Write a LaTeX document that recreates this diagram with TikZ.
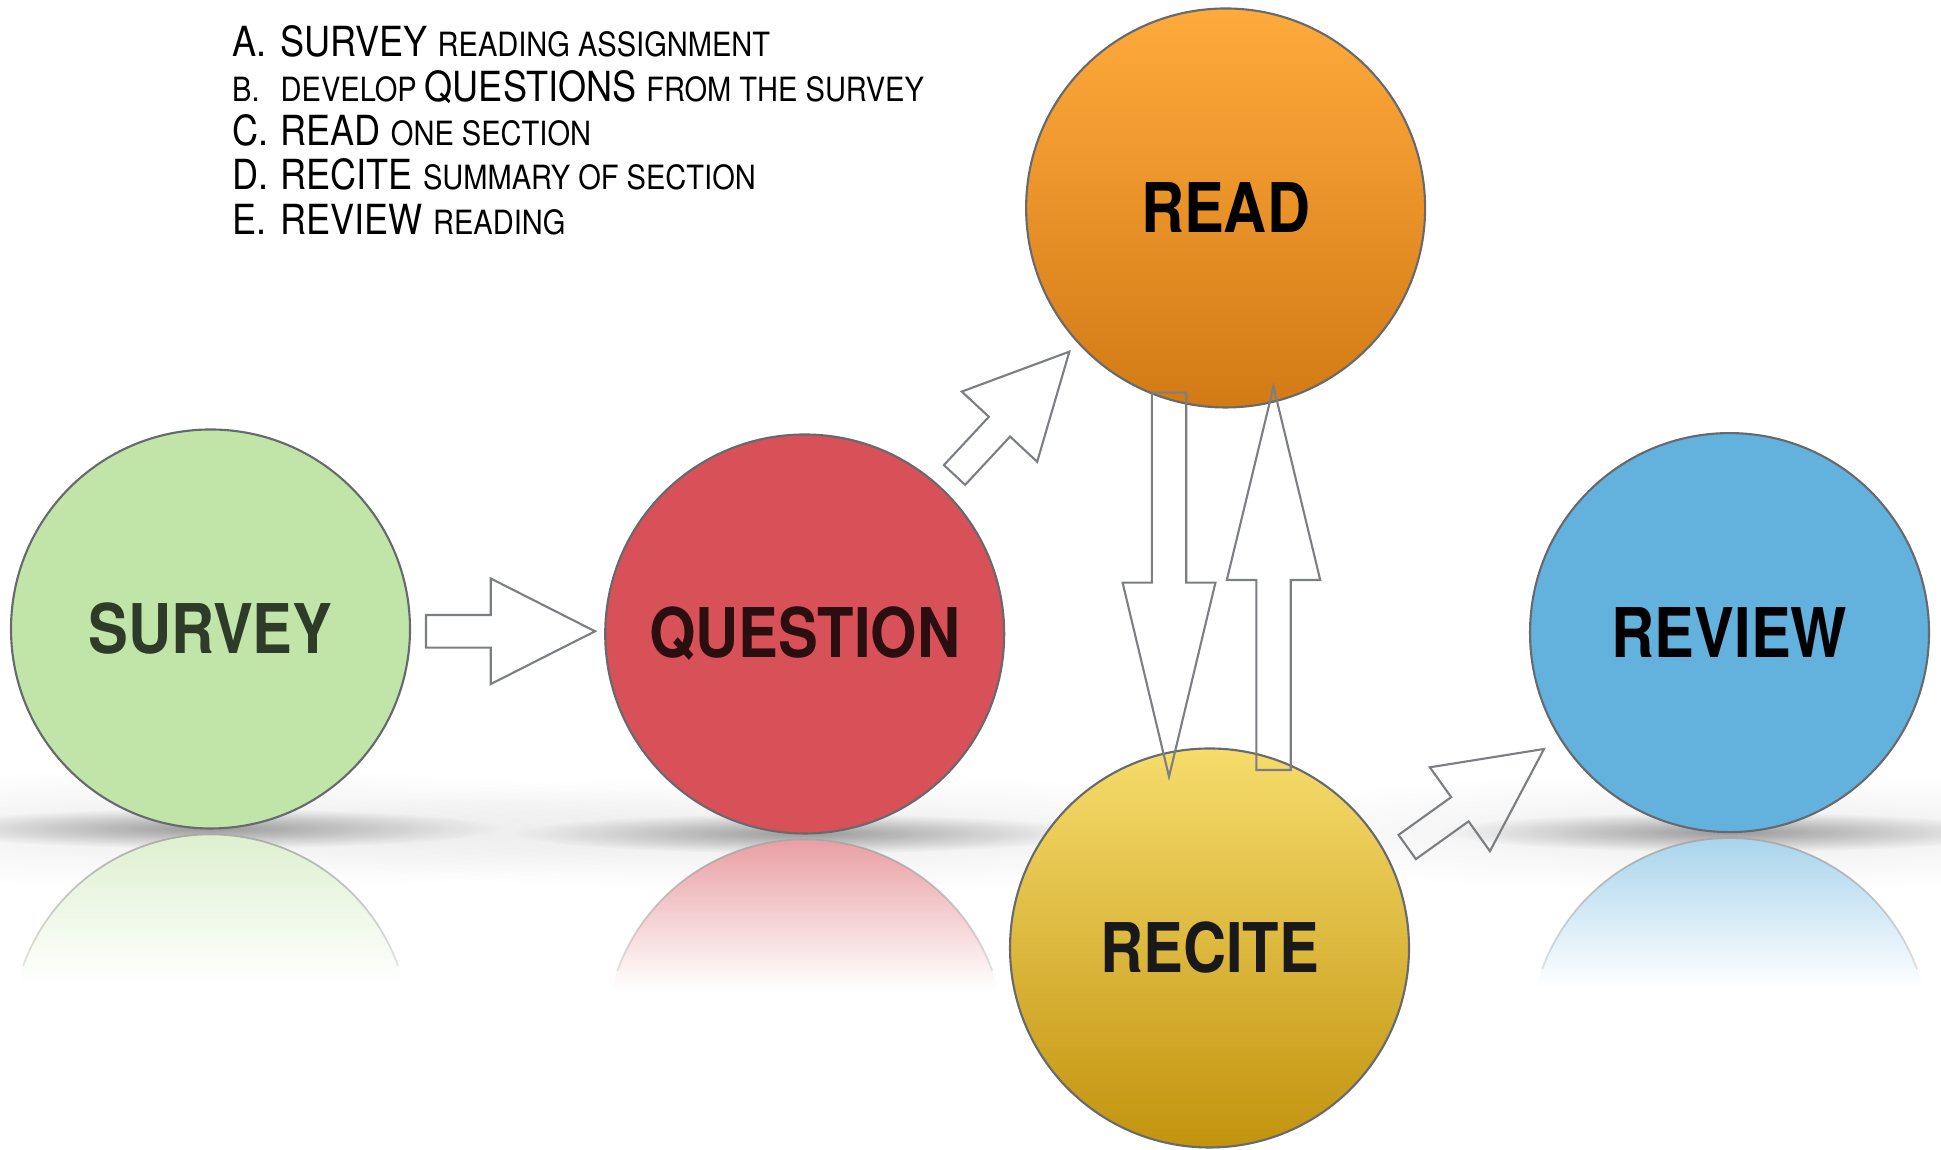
\documentclass[tikz,border=0pt]{standalone}
\usepackage{fontspec}
\setmainfont{TeX Gyre Heros}[FakeStretch=0.87]
\usetikzlibrary{fadings}

\definecolor{surveygreen}{HTML}{C1E4A8}
\definecolor{surveyink}{HTML}{2E3B29}
\definecolor{questionred}{HTML}{D85058}
\definecolor{questionink}{HTML}{2A0E10}
\definecolor{readtop}{HTML}{FFAA3C}
\definecolor{readbottom}{HTML}{D27A15}
\definecolor{recitetop}{HTML}{F6DC6C}
\definecolor{recitebottom}{HTML}{C2930E}
\definecolor{reviewblue}{HTML}{63B1DD}
\definecolor{rim}{HTML}{66696D}
\definecolor{arrowgray}{HTML}{7B7E83}

\tikzfading[name=fadedown, top color=transparent!0, bottom color=transparent!100]
\tikzfading[name=softspot, inner color=transparent!0, outer color=transparent!100]

\newcommand{\listbig}{\fontsize{11.8}{14}\selectfont}
\newcommand{\listsmall}{\fontsize{9.5}{12}\selectfont}

\begin{document}
\begin{tikzpicture}
    \newcommand{\rad}{1.995} % radius of the circles
    \newcommand{\mirrorgap}{0.06} % gap between a circle and its mirror image

    % set the styles of the stages, the arrows and the list
    \tikzset{
        stage/.style={
            circle,
            draw=rim,
            line width=0.6pt,
            minimum size=3.99cm,
            inner sep=0pt,
            font=\bfseries\fontsize{19.5}{22}\selectfont
            },
        blockline/.style={
            draw=arrowgray,
            line width=0.6pt
            },
        listtext/.style={anchor=base west, inner sep=0pt}
    }

    % shadow on the floor and mirror image below a circle: x, bottom, colour
    \newcommand{\reflection}[3]{
        \fill[black, opacity=0.07, path fading=softspot] (#1,#2) ellipse (5.5 and 0.6);
        \fill[black, opacity=0.35, path fading=softspot] (#1,#2) ellipse (2.9 and 0.2);
        \begin{scope}
            \clip (#1,#2-\mirrorgap-\rad) circle (\rad);
            \shade[top color=#3!55, bottom color=white] (#1-\rad,#2-\mirrorgap) rectangle (#1+\rad,#2-\mirrorgap-1.5);
        \end{scope}
        \draw[gray!70, line width=0.5pt, path fading=fadedown] (#1,#2-\mirrorgap-\rad) ++(20:\rad) arc (20:160:\rad);
    }

    % block arrow: tail x, tail y, angle, length, half shaft, half head, head length
    \newcommand{\blockarrow}[7]{
        \draw[blockline, shift={(#1,#2)}, rotate=#3]
            (0,-#5) -- (#4-#7,-#5) -- (#4-#7,-#6) -- (#4,0) -- (#4-#7,#6) -- (#4-#7,#5) -- (0,#5) -- cycle;
    }

    \useasboundingbox (0,0) rectangle (19.41,11.5);

    % reflections
    \reflection{2.105}{3.215}{surveygreen}
    \reflection{8.047}{3.165}{questionred}
    \reflection{17.295}{3.179}{reviewblue}

    % stages
    \node[stage, fill=surveygreen, text=surveyink] (survey) at (2.105,5.21) {SURVEY};
    \node[stage, fill=questionred, text=questionink] (question) at (8.047,5.16) {QUESTION};
    \node[stage, top color=readtop, bottom color=readbottom, text=black] (read) at (12.256,9.42) {READ};
    \node[stage, top color=recitetop, bottom color=recitebottom, text=black!90] (recite) at (12.095,2.02) {RECITE};
    \node[stage, fill=reviewblue, text=black] (review) at (17.295,5.174) {REVIEW};

    % arrows
    \blockarrow{4.26}{5.187}{0}{1.69}{0.163}{0.528}{1.043}
    \blockarrow{9.545}{6.75}{47.04}{1.685}{0.145}{0.515}{1.025}
    \blockarrow{14.072}{3.03}{35.62}{1.683}{0.149}{0.516}{1.035}
    \blockarrow{11.69}{7.573}{-90}{3.84}{0.172}{0.464}{1.94}
    \blockarrow{12.735}{3.80}{90}{3.833}{0.172}{0.467}{1.933}

    % list
    \node[listtext] (la) at (2.315,10.93) {\listbig A.};
    \node[listtext] (ta) at (2.80,10.93) {\listbig SURVEY \listsmall READING ASSIGNMENT};
    \node[listtext] (lb) at (2.315,10.487) {\listsmall B.};
    \node[listtext] (tb) at (2.80,10.487) {\listsmall DEVELOP \listbig QUESTIONS \listsmall FROM THE SURVEY};
    \node[listtext] (lc) at (2.315,10.044) {\listbig C.};
    \node[listtext] (tc) at (2.80,10.044) {\listbig READ \listsmall ONE SECTION};
    \node[listtext] (ld) at (2.315,9.601) {\listbig D.};
    \node[listtext] (td) at (2.80,9.601) {\listbig RECITE \listsmall SUMMARY OF SECTION};
    \node[listtext] (le) at (2.315,9.158) {\listbig E.};
    \node[listtext] (te) at (2.80,9.158) {\listbig REVIEW \listsmall READING};

\end{tikzpicture}
\end{document}
